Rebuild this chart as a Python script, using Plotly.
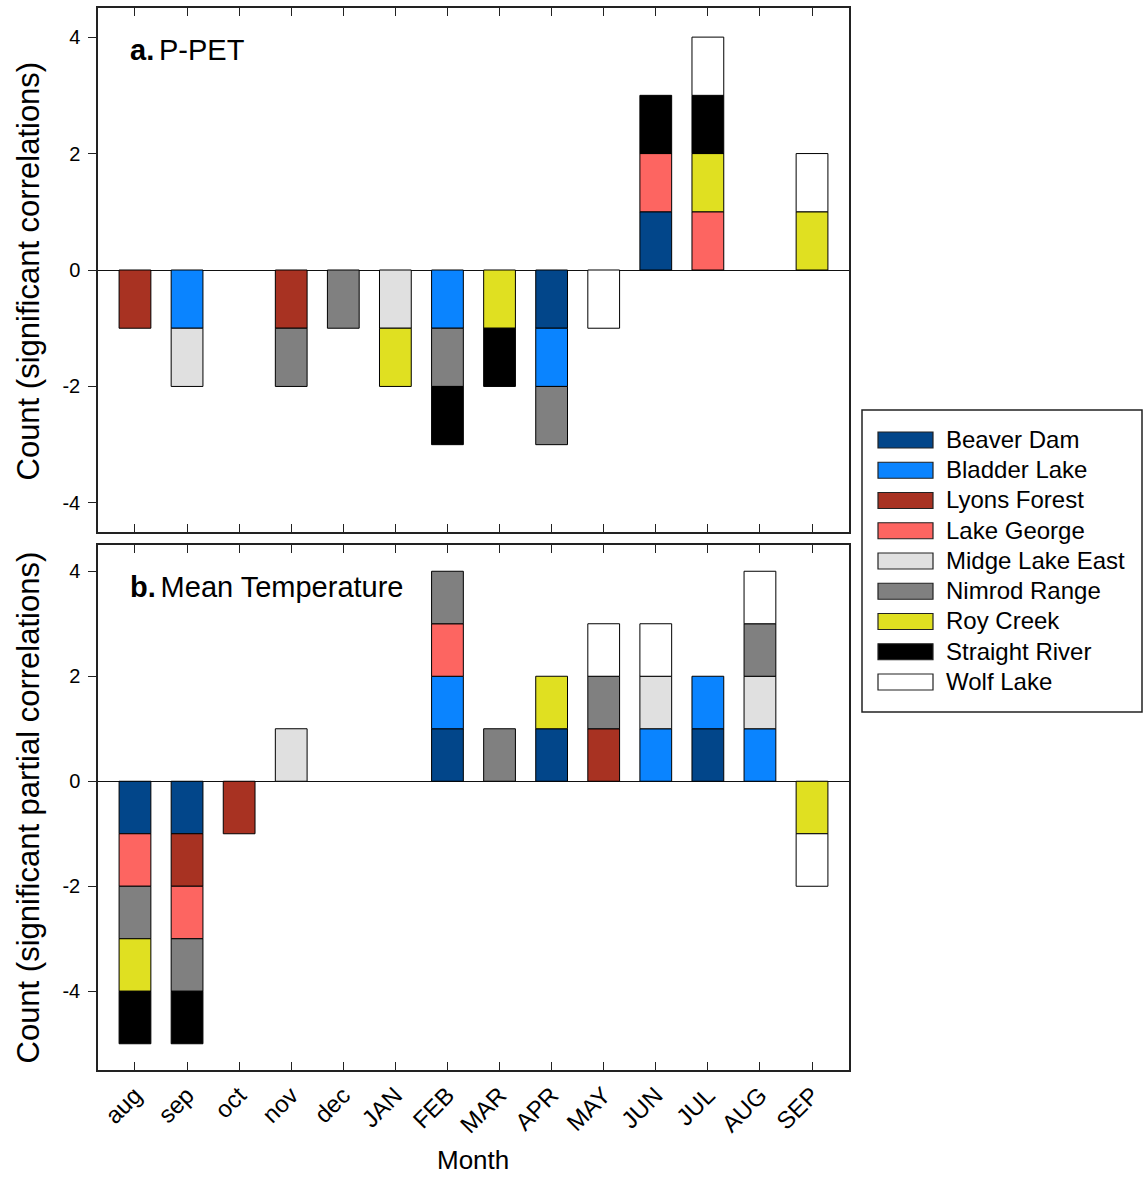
import plotly.graph_objects as go

months = ["aug", "sep", "oct", "nov", "dec", "JAN", "FEB", "MAR", "APR", "MAY", "JUN", "JUL", "AUG", "SEP"]
sites = ["Beaver Dam", "Bladder Lake", "Lyons Forest", "Lake George", "Midge Lake East",
         "Nimrod Range", "Roy Creek", "Straight River", "Wolf Lake"]
colors = ["#02468a", "#0a84ff", "#a83222", "#fd6561", "#e0e0e0", "#808080", "#e0e021", "#000000", "#ffffff"]

# Panel a: P-PET (significant correlations)
ppet_beaver = [0, 0, 0, 0, 0, 0, 0, 0, -1, 0, 1, 0, 0, 0]
ppet_bladder = [0, -1, 0, 0, 0, 0, -1, 0, -1, 0, 0, 0, 0, 0]
ppet_lyons = [-1, 0, 0, -1, 0, 0, 0, 0, 0, 0, 0, 0, 0, 0]
ppet_george = [0, 0, 0, 0, 0, 0, 0, 0, 0, 0, 1, 1, 0, 0]
ppet_midge = [0, -1, 0, 0, 0, -1, 0, 0, 0, 0, 0, 0, 0, 0]
ppet_nimrod = [0, 0, 0, -1, -1, 0, -1, 0, -1, 0, 0, 0, 0, 0]
ppet_roy = [0, 0, 0, 0, 0, -1, 0, -1, 0, 0, 0, 1, 0, 1]
ppet_straight = [0, 0, 0, 0, 0, 0, -1, -1, 0, 0, 1, 1, 0, 0]
ppet_wolf = [0, 0, 0, 0, 0, 0, 0, 0, 0, -1, 0, 1, 0, 1]

# Panel b: Mean temperature (significant partial correlations)
temp_beaver = [-1, -1, 0, 0, 0, 0, 1, 0, 1, 0, 0, 1, 0, 0]
temp_bladder = [0, 0, 0, 0, 0, 0, 1, 0, 0, 0, 1, 1, 1, 0]
temp_lyons = [0, -1, -1, 0, 0, 0, 0, 0, 0, 1, 0, 0, 0, 0]
temp_george = [-1, -1, 0, 0, 0, 0, 1, 0, 0, 0, 0, 0, 0, 0]
temp_midge = [0, 0, 0, 1, 0, 0, 0, 0, 0, 0, 1, 0, 1, 0]
temp_nimrod = [-1, -1, 0, 0, 0, 0, 1, 1, 0, 1, 0, 0, 1, 0]
temp_roy = [-1, 0, 0, 0, 0, 0, 0, 0, 1, 0, 0, 0, 0, -1]
temp_straight = [-1, -1, 0, 0, 0, 0, 0, 0, 0, 0, 0, 0, 0, 0]
temp_wolf = [0, 0, 0, 0, 0, 0, 0, 0, 0, 1, 1, 0, 1, -1]

ppet = [ppet_beaver, ppet_bladder, ppet_lyons, ppet_george, ppet_midge,
        ppet_nimrod, ppet_roy, ppet_straight, ppet_wolf]
temp = [temp_beaver, temp_bladder, temp_lyons, temp_george, temp_midge,
        temp_nimrod, temp_roy, temp_straight, temp_wolf]

ytick_vals = [-4, -2, 0, 2, 4]
ytick_text = ["-4", "-2", "0", "2", "4"]

FONT = "Liberation Sans, Arial, sans-serif"
W, H = 1143, 1177
L, R, T, B = 98, 294, 8, 107
PW, PH = W - L - R, H - T - B


def px_x(x):
    return (x - L) / PW


def px_y(y):
    return (H - B - y) / PH


fig = go.Figure()
for name, col, va, vb in zip(sites, colors, ppet, temp):
    fig.add_trace(go.Bar(x=months, y=[v if v else None for v in va], name=name,
                         marker=dict(color=col, line=dict(color="black", width=1)),
                         width=0.61, xaxis="x", yaxis="y", showlegend=False))
    fig.add_trace(go.Bar(x=months, y=[v if v else None for v in vb], name=name,
                         marker=dict(color=col, line=dict(color="black", width=1)),
                         width=0.61, xaxis="x2", yaxis="y2", showlegend=False))

axis_common = dict(showline=True, linecolor="#222", linewidth=1.5, showgrid=False)
xcommon = dict(axis_common, type="category", categoryorder="array", categoryarray=months,
               range=[-0.71, 13.71], ticks="inside", ticklen=8, tickwidth=1.2, tickcolor="#222",
               mirror="ticks", zeroline=False)
ycommon = dict(axis_common, ticks="outside", ticklen=8, tickwidth=1.2, tickcolor="#222",
               mirror=True, zeroline=True, zerolinecolor="#111", zerolinewidth=1.3,
               tickvals=ytick_vals, ticktext=ytick_text, ticklabelstandoff=4,
               tickfont=dict(size=20, family=FONT, color="black"))

fig.update_layout(
    width=W, height=H,
    margin=dict(l=L, r=R, t=T, b=B, autoexpand=False),
    paper_bgcolor="white", plot_bgcolor="white",
    barmode="relative",
    font=dict(family=FONT, color="black"),
    xaxis=dict(xcommon, domain=[0, 1], anchor="y", showticklabels=False),
    yaxis=dict(ycommon, domain=[px_y(532), 1], anchor="x", range=[-4.5, 4.5]),
    xaxis2=dict(xcommon, domain=[0, 1], anchor="y2", showticklabels=True, tickangle=-45,
                tickfont=dict(size=24, family=FONT, color="black")),
    yaxis2=dict(ycommon, domain=[0, px_y(545)], anchor="x2", range=[-5.5, 4.5]),
)

ann = []
ann.append(dict(text="Count (significant correlations)", x=px_x(28), y=px_y(271.5), xref="paper", yref="paper",
                textangle=-90, showarrow=False, xanchor="center", yanchor="middle",
                font=dict(size=31, family=FONT, color="black")))
ann.append(dict(text="Count (significant partial correlations)", x=px_x(28), y=px_y(807.5), xref="paper",
                yref="paper", textangle=-90, showarrow=False, xanchor="center", yanchor="middle",
                font=dict(size=31, family=FONT, color="black")))
ann.append(dict(text="Month", x=px_x(473), y=px_y(1160), xref="paper", yref="paper", showarrow=False,
                xanchor="center", yanchor="middle", font=dict(size=26, family=FONT, color="black")))
ann.append(dict(text="<b>a.</b>\u2006P-PET", x=px_x(128), y=px_y(50), xref="paper", yref="paper", showarrow=False,
                xanchor="left", yanchor="middle", font=dict(size=29, family=FONT, color="black")))
ann.append(dict(text="<b>b.</b>\u2006Mean Temperature", x=px_x(128), y=px_y(587), xref="paper", yref="paper",
                showarrow=False, xanchor="left", yanchor="middle", font=dict(size=29, family=FONT, color="black")))

shapes = [dict(type="rect", xref="paper", yref="paper", x0=px_x(862), x1=px_x(1142), y0=px_y(712), y1=px_y(410),
               line=dict(color="#222", width=1.5), fillcolor="white", layer="below")]
for i, (name, col) in enumerate(zip(sites, colors)):
    yc = 440 + 30.25 * i
    shapes.append(dict(type="rect", xref="paper", yref="paper", x0=px_x(878), x1=px_x(933),
                       y0=px_y(yc + 8), y1=px_y(yc - 8), fillcolor=col, line=dict(color="#222", width=1.2)))
    ann.append(dict(text=name, x=px_x(944), y=px_y(yc - 0.5), xref="paper", yref="paper", showarrow=False,
                    xanchor="left", yanchor="middle", font=dict(size=24, family=FONT, color="black")))

fig.update_layout(annotations=ann, shapes=shapes)
fig.write_html("out.html")
